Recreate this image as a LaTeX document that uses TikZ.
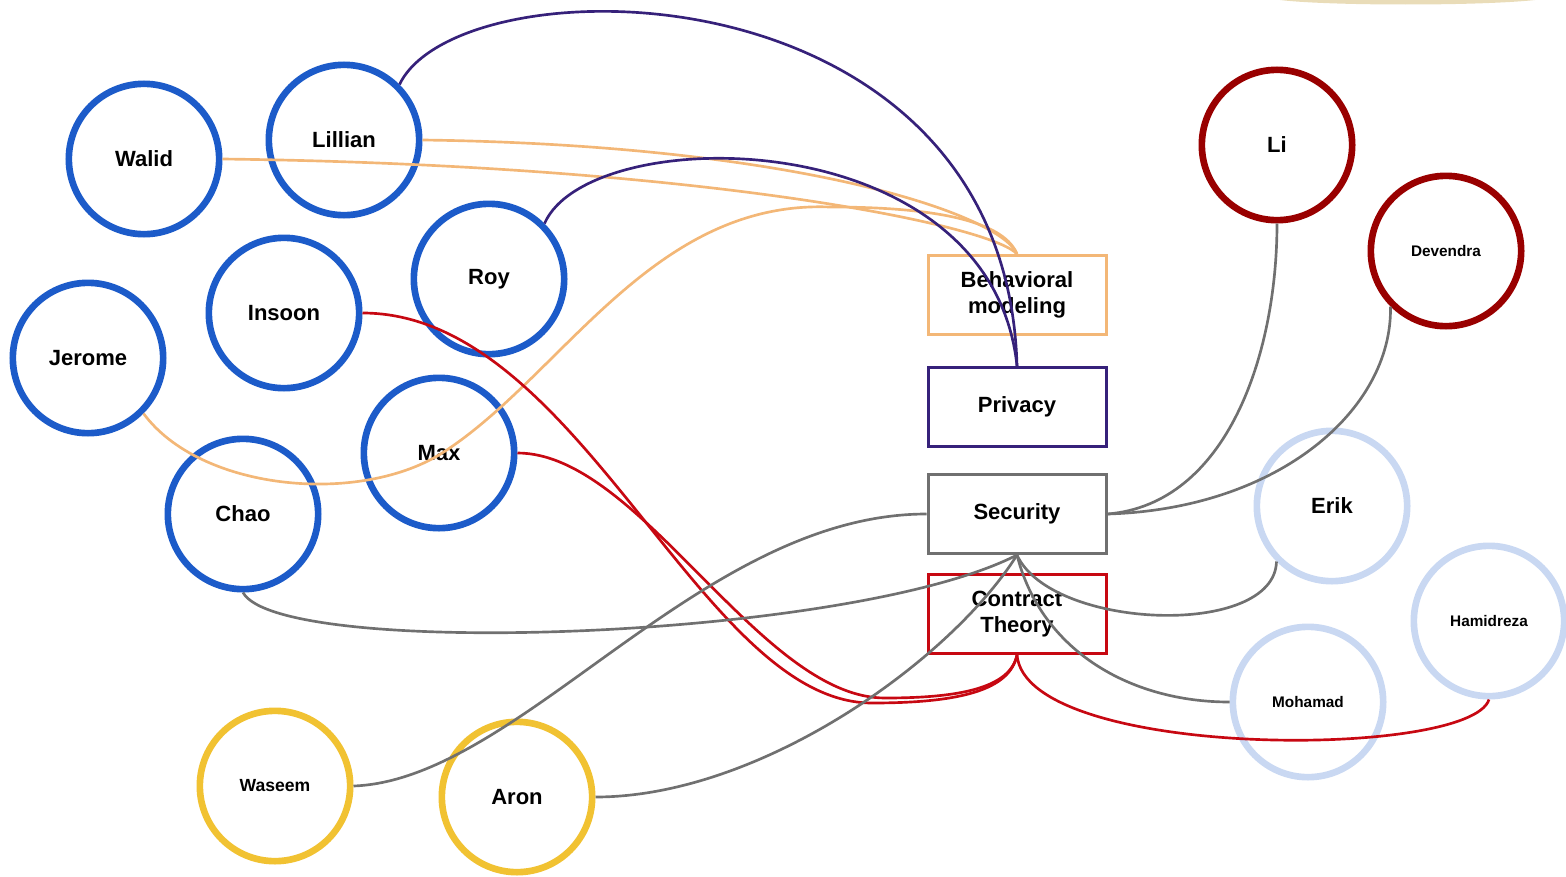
\documentclass[tikz,border=0pt]{standalone}
\usepackage{fontspec}
\setmainfont{Liberation Sans}
\usepackage{tikz}
\usepackage{xcolor}

\definecolor{ringblue}{HTML}{1C5BC9}
\definecolor{ringred}{HTML}{990000}
\definecolor{ringpale}{HTML}{C9D8F2}
\definecolor{ringyellow}{HTML}{F1C232}
\definecolor{behavcol}{HTML}{F3B777}
\definecolor{privcol}{HTML}{36217A}
\definecolor{seccol}{HTML}{707070}
\definecolor{contcol}{HTML}{C70812}
\definecolor{tabbeige}{HTML}{E9DCB8}

\begin{document}
\begin{tikzpicture}[x=0.3mm,y=-0.3mm]
\tikzstyle{every node}+=[inner sep=0pt]
\tikzstyle{person}=[circle,line width=2mm,minimum size=45.1mm,font=\bfseries\fontsize{18.8}{22}\selectfont]
\tikzstyle{smallname}=[font=\bfseries\fontsize{13.1}{16}\selectfont]
\tikzstyle{topic}=[rectangle,line width=0.9mm,minimum width=53.4mm,minimum height=23.7mm,align=center,font=\bfseries\fontsize{18.8}{22.4}\selectfont]
\tikzstyle{link}=[line width=0.8mm]
\useasboundingbox (0,0) rectangle (1566,877);
\fill [tabbeige] (1280,0) .. controls (1330,6) and (1480,6) .. (1535,0) -- cycle;
% people
\node [person,draw=ringblue] (walid) at (144,159) {Walid};
\node [person,draw=ringblue] (lillian) at (344,140) {Lillian};
\node [person,draw=ringblue] (roy) at (489,279) {Roy};
\node [person,draw=ringblue] (insoon) at (284,313) {Insoon};
\node [person,draw=ringblue] (jerome) at (88,358) {Jerome};
\node [person,draw=ringblue] (max) at (439,453) {Max};
\node [person,draw=ringblue] (chao) at (243,514) {Chao};
\node [person,draw=ringred] (li) at (1277,145) {Li};
\node [person,smallname,draw=ringred] (devendra) at (1446,251) {Devendra};
\node [person,draw=ringpale] (erik) at (1332,506) {Erik};
\node [person,smallname,draw=ringpale] (hamidreza) at (1489,621) {Hamidreza};
\node [person,smallname,draw=ringpale] (mohamad) at (1308,702) {Mohamad};
\node [person,draw=ringyellow,font=\bfseries\fontsize{15}{18}\selectfont] (waseem) at (275,786) {Waseem};
\node [person,draw=ringyellow] (aron) at (517,797) {Aron};
% topics
\node [topic,draw=behavcol] (behav) at (1017,295) {Behavioral\\modeling};
\node [topic,draw=privcol] (privacy) at (1017,407) {Privacy};
\node [topic,draw=seccol] (security) at (1017,514) {Security};
\node [topic,draw=contcol] (contract) at (1017,614) {Contract\\Theory};
% behavioral modeling
\draw [link,behavcol] (lillian.east) .. controls +(378,5) and +(-16,-39) .. (behav.north);
\draw [link,behavcol] (walid.east) .. controls +(478,6) and +(-26,-29) .. (behav.north);
\draw [link,behavcol] (jerome.-45) .. controls (200,490) and (355,505) .. (439,455)
  .. controls (560,380) and (650,200) .. (830,207) .. controls (950,207) and (1005,225) .. (behav.north);
% privacy
\draw [link,privcol] (lillian.45) .. controls +(60,-125) and +(-11,-406) .. (privacy.north);
\draw [link,privcol] (roy.45) .. controls +(45,-103) and +(-26,-246) .. (privacy.north);
% contract theory
\draw [link,contcol] (insoon.east) .. controls (580,313) and (700,703) .. (872,703)
  .. controls (960,703) and (1010,690) .. (contract.south);
\draw [link,contcol] (max.east) .. controls (640,453) and (760,698) .. (885,698)
  .. controls (960,698) and (1010,688) .. (contract.south);
\draw [link,contcol] (contract.south) .. controls +(9,105) and +(-19,60) .. (hamidreza.south);
% security
\draw [link,seccol] (waseem.east) .. controls +(166,-6) and +(-226,0) .. (security.west);
\draw [link,seccol] (chao.south) .. controls +(37,67) and +(-166,85) .. (security.south);
\draw [link,seccol] (aron.east) .. controls +(165,0) and +(-66,105) .. (security.south);
\draw [link,seccol] (security.south) .. controls +(34,75) and +(-2,77) .. (erik.225);
\draw [link,seccol] (security.south) .. controls +(24,95) and +(-100,0) .. (mohamad.west);
\draw [link,seccol] (security.east) .. controls +(120,-10) and +(0,130) .. (li.south);
\draw [link,seccol] (security.east) .. controls +(170,-5) and +(2,104) .. (devendra.225);
\end{tikzpicture}
\end{document}
